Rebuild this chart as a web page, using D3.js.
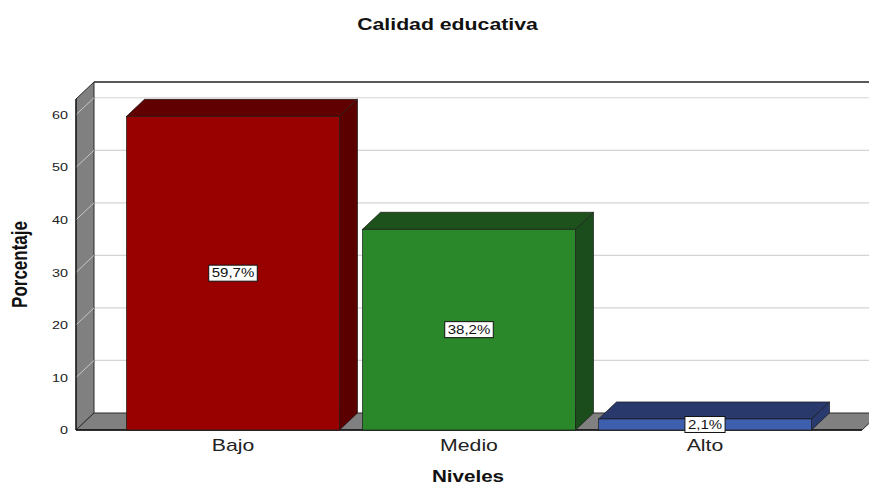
<!DOCTYPE html>
<html>
<head>
<meta charset="utf-8">
<script src="https://cdn.jsdelivr.net/npm/d3@7/dist/d3.min.js"></script>
<style>
  html, body { margin: 0; padding: 0; background: #fff; }
  svg { display: block; font-family: "Liberation Sans", Arial, sans-serif; }
</style>
</head>
<body>
<svg id="chart" width="869" height="486"></svg>
<script>
// ---- data ----
const categories = ["Bajo", "Medio", "Alto"];
const values = [59.7, 38.2, 2.1];
const valueLabels = ["59,7%", "38,2%", "2,1%"];
const yTicks = [0, 10, 20, 30, 40, 50, 60];
const titleText = "Calidad educativa";
const xTitle = "Niveles";
const yTitle = "Porcentaje";

// ---- styles ----
const frontColors = ["#990000", "#2a872a", "#3e5fad"];
const topColors = ["#610000", "#1d521d", "#29396b"];
const sideColors = ["#5a0000", "#1b4c1b", "#283a6e"];
const SX = 1.25; // horizontal text stretch seen in reference

const svg = d3.select("#chart");
const W = 869;
const left = 76, right = 862, bottom = 430;
const dx = 18, dy = 17;

const x = d3.scaleBand().domain(categories).range([left, right])
  .paddingInner(0.0975).paddingOuter(0.214);
const y = d3.scaleLinear().domain([0, 63]).range([bottom, 99]);

const yTop = y(63);

// back wall top border
svg.append("line").attr("x1", left + dx).attr("x2", W).attr("y1", yTop - dy).attr("y2", yTop - dy)
  .attr("stroke", "#222").attr("stroke-width", 1.6);

// gridlines on back wall
yTicks.filter(d => d > 0).forEach(d => {
  svg.append("line").attr("x1", left + dx).attr("x2", W)
    .attr("y1", y(d) - dy).attr("y2", y(d) - dy)
    .attr("stroke", "#d4d4d4").attr("stroke-width", 1.2);
});

// left wall
svg.append("polygon")
  .attr("points", [[left, bottom], [left, yTop], [left + dx, yTop - dy], [left + dx, bottom - dy]].map(p => p.join(",")).join(" "))
  .attr("fill", "#808080").attr("stroke", "#2a2a2a").attr("stroke-width", 1);
// wall tick diagonals
yTicks.filter(d => d > 0).forEach(d => {
  svg.append("line").attr("x1", left).attr("y1", y(d)).attr("x2", left + dx).attr("y2", y(d) - dy)
    .attr("stroke", "#c8c8c8").attr("stroke-width", 1);
});

// floor
svg.append("polygon")
  .attr("points", [[left, bottom], [right, bottom], [right + dx, bottom - dy], [left + dx, bottom - dy]].map(p => p.join(",")).join(" "))
  .attr("fill", "#808080").attr("stroke", "#2a2a2a").attr("stroke-width", 1);
svg.append("line").attr("x1", left).attr("x2", right).attr("y1", bottom).attr("y2", bottom)
  .attr("stroke", "#111").attr("stroke-width", 1.4);
svg.append("line").attr("x1", left).attr("x2", left).attr("y1", yTop).attr("y2", bottom)
  .attr("stroke", "#111").attr("stroke-width", 1.2);

// bars
const bw = x.bandwidth();
const bars = svg.append("g");
categories.forEach((c, i) => {
  const x0 = x(c), yT = y(values[i]), y0 = y(0);
  const g = bars.append("g");
  g.append("polygon")
    .attr("points", [[x0 + bw, yT], [x0 + bw + dx, yT - dy], [x0 + bw + dx, y0 - dy], [x0 + bw, y0]].map(p => p.join(",")).join(" "))
    .attr("fill", sideColors[i]).attr("stroke", "#1a1a1a").attr("stroke-width", 0.7);
  g.append("polygon")
    .attr("points", [[x0, yT], [x0 + dx, yT - dy], [x0 + bw + dx, yT - dy], [x0 + bw, yT]].map(p => p.join(",")).join(" "))
    .attr("fill", topColors[i]).attr("stroke", "#1a1a1a").attr("stroke-width", 0.7);
  g.append("rect").attr("x", x0).attr("y", yT).attr("width", bw).attr("height", y0 - yT)
    .attr("fill", frontColors[i]).attr("stroke", "#1a1a1a").attr("stroke-width", 0.7);
});

// value labels
categories.forEach((c, i) => {
  const cx = x(c) + bw / 2;
  const cy = (y(values[i]) + y(0)) / 2;
  const g = svg.append("g").attr("transform", `translate(${cx},${cy})`);
  const rect = g.append("rect");
  const t = g.append("text").text(valueLabels[i])
    .attr("text-anchor", "middle").attr("dy", "0.36em")
    .attr("font-size", 12).attr("fill", "#111")
    .attr("transform", `scale(${SX},1)`);
  const tw = t.node().getComputedTextLength() * SX + 6;
  rect.attr("x", -tw / 2).attr("y", -8).attr("width", tw).attr("height", 16)
    .attr("fill", "#fff").attr("stroke", "#111").attr("stroke-width", 1);
});

// y axis tick labels
const yAxis = svg.append("g").attr("transform", `translate(${left},0)`)
  .call(d3.axisLeft(y).tickValues(yTicks).tickSize(0).tickPadding(6.4).tickFormat(d3.format("d")));
yAxis.select(".domain").remove();
yAxis.selectAll("text").attr("font-size", 11.5).attr("fill", "#222")
  .attr("font-family", "Liberation Sans, Arial, sans-serif")
  .attr("transform", `scale(${SX},1)`);

// x axis labels
const xAxis = svg.append("g").attr("transform", `translate(0,${bottom})`)
  .call(d3.axisBottom(x).tickSize(0));
xAxis.select(".domain").remove();
xAxis.selectAll("text").attr("y", 21).attr("dy", 0).attr("font-size", 17).attr("fill", "#222")
  .attr("font-family", "Liberation Sans, Arial, sans-serif")
  .attr("transform", `scale(${SX},1)`);

// titles
svg.append("text").text(titleText)
  .attr("transform", `translate(447.5,30) scale(${SX},1)`)
  .attr("text-anchor", "middle").attr("font-weight", "bold").attr("font-size", 17).attr("fill", "#111");
svg.append("text").text(xTitle)
  .attr("transform", `translate(468,482) scale(${SX},1)`)
  .attr("text-anchor", "middle").attr("font-weight", "bold").attr("font-size", 16.5).attr("fill", "#111");
svg.append("text").text(yTitle)
  .attr("transform", `translate(27,264.5) scale(${SX},1) rotate(-90)`)
  .attr("text-anchor", "middle").attr("font-weight", "bold").attr("font-size", 17).attr("fill", "#111");
</script>
</body>
</html>
